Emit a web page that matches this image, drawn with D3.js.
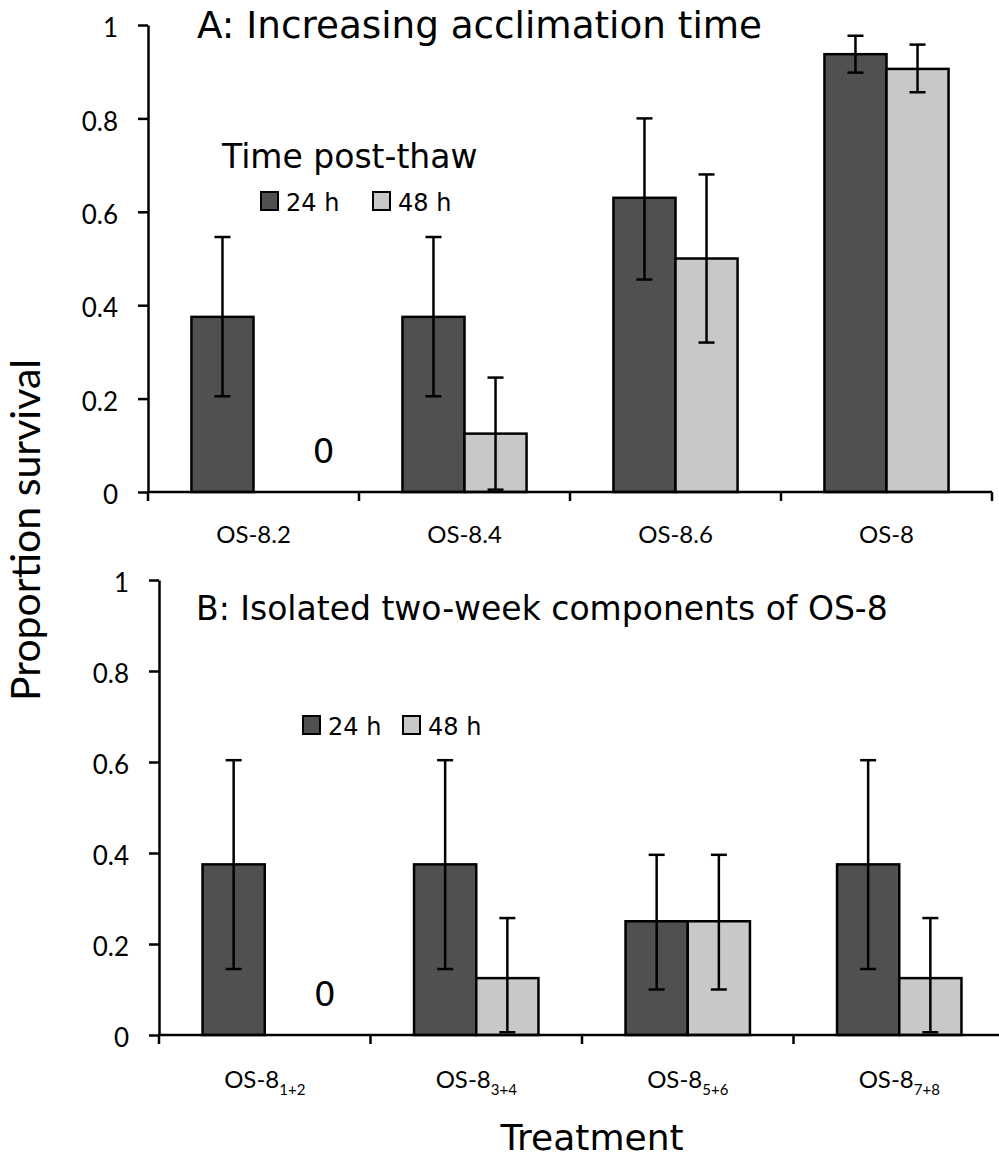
<!DOCTYPE html>
<html>
<head>
<meta charset="utf-8">
<script src="https://cdn.jsdelivr.net/npm/d3@7"></script>
<style>
  body { margin: 0; background: #fff; }
  svg { display: block; }
</style>
</head>
<body>
<svg id="chart" width="999" height="1158"></svg>
<script>
// data
const seriesNames = ["24 h", "48 h"];
const yTicks = [0, 0.2, 0.4, 0.6, 0.8, 1];

const catsA = ["OS-8.2", "OS-8.4", "OS-8.6", "OS-8"];
const meanA24 = [0.375, 0.375, 0.63, 0.9375];
const loA24 = [0.205, 0.205, 0.455, 0.898];
const hiA24 = [0.546, 0.546, 0.80, 0.977];
const meanA48 = [0, 0.125, 0.50, 0.906];
const loA48 = [null, 0.005, 0.32, 0.856];
const hiA48 = [null, 0.245, 0.68, 0.958];

const catsB = ["1+2", "3+4", "5+6", "7+8"];
const meanB24 = [0.375, 0.375, 0.25, 0.375];
const loB24 = [0.145, 0.145, 0.10, 0.145];
const hiB24 = [0.604, 0.604, 0.396, 0.604];
const meanB48 = [0, 0.125, 0.25, 0.125];
const loB48 = [null, 0.006, 0.10, 0.006];
const hiB48 = [null, 0.257, 0.396, 0.257];

const colors = ["#505050", "#c8c8c8"];
const titleFont = "DejaVu Sans";
const tickFont = "Lato";

const svg = d3.select("#chart");

function drawPanel(p) {
    const g = svg.append("g");
    const y = d3.scaleLinear().domain([0, 1]).range(p.yRange);
    const x = d3.scaleBand().domain(p.cats).range(p.xRange).padding(0);
    const xSub = d3.scaleBand().domain(seriesNames).range([0, x.bandwidth()]).paddingOuter(0.7).paddingInner(0);

    // y axis
    const yAxis = g.append("g")
        .attr("transform", `translate(${p.xRange[0]},0)`)
        .call(d3.axisLeft(y).tickValues(yTicks).tickSize(10).tickSizeOuter(0).tickPadding(20)
            .tickFormat(d => String(d)));
    yAxis.select(".domain").attr("stroke", "#000").attr("stroke-width", 2.5);
    yAxis.selectAll(".tick line").attr("stroke", "#000").attr("stroke-width", 2.5);
    yAxis.selectAll(".tick text")
        .attr("font-family", tickFont).attr("font-size", 26).attr("fill", "#000").attr("dy", "0.45em");

    // bars
    const series = [
        { name: seriesNames[0], mean: p.mean24, lo: p.lo24, hi: p.hi24, color: colors[0] },
        { name: seriesNames[1], mean: p.mean48, lo: p.lo48, hi: p.hi48, color: colors[1] }
    ];
    series.forEach(s => {
        g.append("g").selectAll("rect")
            .data(p.cats)
            .enter()
            .append("rect")
            .attr("x", d => x(d) + xSub(s.name))
            .attr("width", xSub.bandwidth())
            .attr("y", (d, i) => y(s.mean[i]))
            .attr("height", (d, i) => y(0) - y(s.mean[i]))
            .attr("fill", s.color)
            .attr("stroke", "#000")
            .attr("stroke-width", 2.5);
    });

    // error bars
    series.forEach(s => {
        const eb = g.append("g").attr("stroke", "#000").attr("stroke-width", 2.5);
        p.cats.forEach((c, i) => {
            if (s.lo[i] == null) return;
            const cx = x(c) + xSub(s.name) + xSub.bandwidth() / 2;
            eb.append("line").attr("x1", cx).attr("x2", cx).attr("y1", y(s.lo[i])).attr("y2", y(s.hi[i]));
            eb.append("line").attr("x1", cx - 8).attr("x2", cx + 8).attr("y1", y(s.lo[i])).attr("y2", y(s.lo[i]));
            eb.append("line").attr("x1", cx - 8).attr("x2", cx + 8).attr("y1", y(s.hi[i])).attr("y2", y(s.hi[i]));
        });
    });

    // x axis: baseline, category boundary ticks, labels
    const xa = g.append("g").attr("stroke", "#000").attr("stroke-width", 2.5);
    xa.append("line").attr("x1", p.xRange[0]).attr("x2", Math.min(p.xRange[1], 999)).attr("y1", y(0)).attr("y2", y(0));
    const bounds = p.cats.map(c => x(c)).concat([p.xRange[1]]);
    xa.selectAll(".bt").data(bounds).enter().append("line")
        .attr("x1", d => d).attr("x2", d => d)
        .attr("y1", y(0)).attr("y2", y(0) + 9);

    const lab = g.append("g").selectAll("text")
        .data(p.cats).enter().append("text")
        .attr("x", d => x(d) + x.bandwidth() / 2)
        .attr("y", y(0) + p.labelDy)
        .attr("text-anchor", "middle")
        .attr("font-family", tickFont)
        .attr("font-size", 24);
    if (p.sub) {
        lab.append("tspan").text("OS-8");
        lab.append("tspan").attr("font-size", 15).attr("dy", 7).text(d => d);
    } else {
        lab.text(d => d);
    }

    // zero label for the empty 48 h bar
    g.append("text")
        .attr("x", x(p.cats[0]) + xSub(seriesNames[1]) + xSub.bandwidth() / 2 + p.zeroDx)
        .attr("y", y(0) - 29)
        .attr("text-anchor", "middle")
        .attr("font-family", titleFont)
        .attr("font-size", 34)
        .text("0");

    // title
    g.append("text")
        .attr("x", p.titleX).attr("y", p.titleY)
        .attr("font-family", titleFont).attr("font-size", p.titleSize)
        .text(p.title);

    // legend
    const lg = g.append("g").attr("transform", `translate(${p.legX},${p.legY})`);
    seriesNames.forEach((n, i) => {
        const off = i * p.legStep;
        lg.append("rect").attr("x", off).attr("y", 0).attr("width", 17).attr("height", 18)
            .attr("fill", colors[i]).attr("stroke", "#000").attr("stroke-width", 2);
        lg.append("text").attr("x", off + 25).attr("y", 19)
            .attr("font-family", titleFont).attr("font-size", 24).text(n);
    });
    return g;
}

drawPanel({
    cats: catsA, sub: false,
    mean24: meanA24, lo24: loA24, hi24: hiA24,
    mean48: meanA48, lo48: loA48, hi48: hiA48,
    xRange: [148, 992], yRange: [492, 25], labelDy: 51, zeroDx: 39,
    title: "A: Increasing acclimation time", titleX: 197, titleY: 38, titleSize: 37.3,
    legX: 261, legY: 192, legStep: 112
});

svg.append("text")
    .attr("x", 222).attr("y", 168)
    .attr("font-family", titleFont).attr("font-size", 33)
    .text("Time post-thaw");

drawPanel({
    cats: catsB, sub: true,
    mean24: meanB24, lo24: loB24, hi24: hiB24,
    mean48: meanB48, lo48: loB48, hi48: hiB48,
    xRange: [159, 1005], yRange: [1035, 580], labelDy: 53, zeroDx: 29,
    title: "B: Isolated two-week components of OS-8", titleX: 196, titleY: 620, titleSize: 33,
    legX: 303, legY: 716, legStep: 100
});

// axis titles
svg.append("text")
    .attr("transform", "translate(40,530) rotate(-90)")
    .attr("text-anchor", "middle")
    .attr("font-family", tickFont).attr("font-size", 41)
    .text("Proportion survival");

svg.append("text")
    .attr("x", 592).attr("y", 1150)
    .attr("text-anchor", "middle")
    .attr("font-family", titleFont).attr("font-size", 36)
    .text("Treatment");
</script>
</body>
</html>
